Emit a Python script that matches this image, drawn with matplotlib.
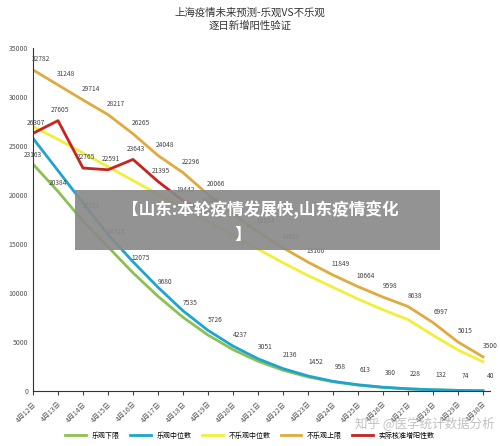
import matplotlib
matplotlib.use("Agg")
import matplotlib.pyplot as plt
from matplotlib.patches import Rectangle

plt.rcParams['font.family'] = ['Noto Sans CJK SC', 'DejaVu Sans']

dates = [f"4月{d}日" for d in range(12, 31)]
upper = [32782, 31248, 29714, 28217, 26265, 24048, 22296, 20066, 18100, 16254, 14628,
         13166, 11849, 10664, 9598, 8638, 6997, 5015, 3500]
pess_mid = [27000, 25700, 24300, 22900, 21500, 20100, 18700, 17300, 15900, 14500, 13100,
            11800, 10600, 9400, 8300, 7300, 5700, 4200, 3000]
opt_mid = [25800, 22500, 19200, 16000, 13200, 10600, 8200, 6200, 4600, 3300, 2300,
           1550, 1000, 650, 400, 240, 140, 80, 40]
opt_low = [23163, 20384, 17351, 14725, 12075, 9680, 7535, 5726, 4237, 3051, 2136,
           1452, 958, 613, 380, 228, 132, 74, 40]
actual = [26307, 27605, 22765, 22591, 23643, 21395, 19442, 18300]
upper_labels = upper[:8] + [None] + upper[9:]
names = ["乐观下限", "乐观中位数", "不乐观中位数", "不乐观上限", "实际核准增阳性数"]

fig = plt.figure(figsize=(5, 4.46), dpi=100)
ax = fig.add_axes([0.066, 0.123, 0.914, 0.769])
x = list(range(len(dates)))
c_g, c_b, c_y, c_o, c_r = "#8cc152", "#1ea5cf", "#f2ee3a", "#e0aa3e", "#c8231f"
ax.plot(x, opt_low, color=c_g, lw=2, label=names[0])
ax.plot(x, opt_mid, color=c_b, lw=2, label=names[1])
ax.plot(x, pess_mid, color=c_y, lw=2, label=names[2])
ax.plot(x, upper, color=c_o, lw=2, label=names[3])
ax.plot(range(len(actual)), actual, color=c_r, lw=2, label=names[4])

fs = 4.8
for i, v in enumerate(upper_labels):
    if v is not None:
        ax.text(i + 0.3, v + 900, str(v), fontsize=fs, color="#444", ha="center")
for i, v in enumerate(opt_low):
    if i < 2:
        ax.text(i, v + 700, str(v), fontsize=fs, color="#444", ha="center")
    else:
        ax.text(i + 0.3, v + 1300, str(v), fontsize=fs, color="#444", ha="center")
for i, v in enumerate(actual):
    ax.text(i + 0.1, v + 900, str(v), fontsize=fs, color="#444", ha="center")

ax.set_xlim(0, 18.28)
ax.set_ylim(0, 35000)
ax.set_yticks(range(0, 35001, 5000))
ax.set_xticks(x)
ax.set_xticklabels(dates, rotation=45, ha="right", rotation_mode="anchor", fontsize=5, color="#555")
ax.tick_params(axis="y", labelsize=5, colors="#555", length=0)
ax.tick_params(axis="x", length=3, color="#444")
for s in ["top", "right"]:
    ax.spines[s].set_visible(False)
ax.spines["left"].set_color("#333")
ax.spines["bottom"].set_color("#333")

fig.text(0.5, 0.965, "上海疫情未来预测-乐观VS不乐观", ha="center", fontsize=7.5, color="#333")
fig.text(0.5, 0.935, "逐日新增阳性验证", ha="center", fontsize=7.5, color="#333")

fig.legend(loc="lower center", bbox_to_anchor=(0.5, 0.0), ncol=5, fontsize=5,
           frameon=False, handlelength=3, columnspacing=1.5)

fig.text(0.85, 0.04, "知乎 @医学统计数据分析", ha="center", fontsize=9, color="#bbb", alpha=0.9)

fig.patches.append(Rectangle((0.15, 0.44), 0.73, 0.135, transform=fig.transFigure,
                             facecolor="#8a8a8a", alpha=0.92, zorder=10))
fig.text(0.52, 0.53, "【山东:本轮疫情发展快,山东疫情变化", ha="center", va="center",
         fontsize=12, color="white", fontweight="bold", zorder=11)
fig.text(0.485, 0.473, "】", ha="center", va="center", fontsize=12, color="white",
         fontweight="bold", zorder=11)

fig.savefig("out.png", dpi=100)
